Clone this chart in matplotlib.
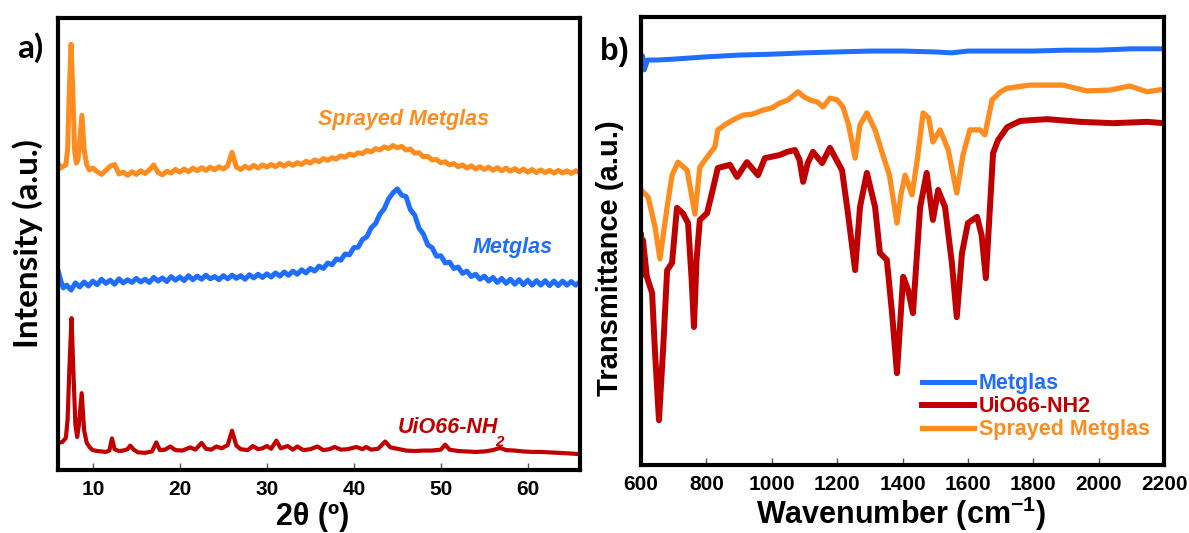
import matplotlib
matplotlib.use("Agg")
import matplotlib.pyplot as plt

plt.rcParams["font.family"] = "Liberation Sans"
plt.rcParams["font.weight"] = "bold"
plt.rcParams["mathtext.fontset"] = "custom"
plt.rcParams["mathtext.rm"] = "Liberation Sans:bold"
plt.rcParams["mathtext.bf"] = "Liberation Sans:bold"
plt.rcParams["mathtext.default"] = "bf"

ORANGE = "#FF8C1E"
BLUE = "#1F6EFF"
RED = "#C00000"

# ---------------- XRD patterns (2theta in degrees, intensity a.u.) ----------------
tt_sprayed = [6.0, 6.3, 6.6, 6.9, 7.1, 7.3, 7.5, 7.7, 7.9, 8.1, 8.3, 8.5, 8.75, 9.0, 9.3, 9.6, 10.0,
              10.5, 11.0, 11.5, 12.0, 12.5, 13.0, 13.5, 14.0, 14.5, 15.0, 15.5, 16.0, 16.5, 17.0,
              17.5, 18.0, 18.5, 19.0, 19.5, 20.0, 20.5, 21.0, 21.5, 22.0, 22.5, 23.0, 23.5, 24.0,
              24.5, 25.0, 25.5, 26.0, 26.5, 27.0, 27.5, 28.0, 28.5, 29.0, 29.5, 30.0, 30.5, 31.0,
              31.5, 32.0, 32.5, 33.0, 33.5, 34.0, 34.5, 35.0, 35.5, 36.0, 36.5, 37.0, 37.5, 38.0,
              38.5, 39.0, 39.5, 40.0, 40.5, 41.0, 41.5, 42.0, 42.5, 43.0, 43.5, 44.0, 44.5, 45.0,
              45.5, 46.0, 46.5, 47.0, 47.5, 48.0, 48.5, 49.0, 49.5, 50.0, 50.5, 51.0, 51.5, 52.0,
              52.5, 53.0, 53.5, 54.0, 54.5, 55.0, 55.5, 56.0, 56.5, 57.0, 57.5, 58.0, 58.5, 59.0,
              59.5, 60.0, 60.5, 61.0, 61.5, 62.0, 62.5, 63.0, 63.5, 64.0, 64.5, 65.0, 65.5, 66.0]
i_sprayed = [67.9, 66.8, 67.2, 67.5, 70.8, 84.1, 94.2, 84.1, 70.8, 67.9, 68.6, 73.0, 78.5, 70.8, 67.5, 66.4, 66.8,
             66.0, 65.4, 66.3, 67.2, 67.6, 65.5, 65.9, 65.2, 66.0, 65.4, 66.2, 65.6, 66.4, 67.5,
             65.8, 65.3, 66.1, 65.7, 66.5, 65.9, 66.6, 66.0, 66.8, 66.2, 66.9, 66.3, 67.0, 66.4,
             67.1, 66.6, 67.3, 70.3, 67.0, 66.5, 67.2, 66.7, 67.4, 66.8, 67.5, 67.0, 67.6, 67.1,
             67.8, 67.2, 67.9, 67.4, 68.0, 67.6, 68.3, 67.9, 68.6, 68.2, 68.9, 68.5, 69.1, 68.8,
             69.5, 69.2, 69.9, 69.6, 70.2, 70.0, 70.7, 70.4, 71.1, 70.8, 71.5, 71.1, 71.8, 71.3,
             71.6, 70.8, 71.0, 70.1, 70.2, 69.3, 69.4, 68.6, 68.7, 68.0, 68.2, 67.5, 67.8, 67.1,
             67.5, 66.8, 67.3, 66.6, 67.1, 66.5, 67.0, 66.3, 66.9, 66.2, 66.8, 66.1, 66.7, 66.0,
             66.6, 65.9, 66.5, 65.8, 66.4, 65.8, 66.3, 65.7, 66.3, 65.7, 66.2, 65.6, 66.2, 65.8]

tt_metglas = [6.0, 6.3, 6.6, 7.0, 7.5, 8.0, 8.5, 9.0, 9.5, 10.0,
              10.5, 11.0, 11.5, 12.0, 12.5, 13.0, 13.5, 14.0, 14.5, 15.0, 15.5, 16.0, 16.5, 17.0,
              17.5, 18.0, 18.5, 19.0, 19.5, 20.0, 20.5, 21.0, 21.5, 22.0, 22.5, 23.0, 23.5, 24.0,
              24.5, 25.0, 25.5, 26.0, 26.5, 27.0, 27.5, 28.0, 28.5, 29.0, 29.5, 30.0, 30.5, 31.0,
              31.5, 32.0, 32.5, 33.0, 33.5, 34.0, 34.5, 35.0, 35.5, 36.0, 36.5, 37.0, 37.5, 38.0,
              38.5, 39.0, 39.5, 40.0, 40.5, 41.0, 41.5, 42.0, 42.5, 43.0, 43.5, 44.0, 44.5, 45.0,
              45.5, 46.0, 46.5, 47.0, 47.5, 48.0, 48.5, 49.0, 49.5, 50.0, 50.5, 51.0, 51.5, 52.0,
              52.5, 53.0, 53.5, 54.0, 54.5, 55.0, 55.5, 56.0, 56.5, 57.0, 57.5, 58.0, 58.5, 59.0,
              59.5, 60.0, 60.5, 61.0, 61.5, 62.0, 62.5, 63.0, 63.5, 64.0, 64.5, 65.0, 65.5, 66.0]
i_metglas = [44.2, 42.0, 40.3, 40.9, 39.8, 41.4, 40.5, 41.6, 40.7, 41.8,
             41.0, 42.2, 41.3, 42.0, 41.1, 42.3, 41.4, 42.1, 41.5, 42.4, 41.6, 42.2, 41.5, 42.6,
             41.8, 42.5, 41.7, 42.8, 42.0, 42.7, 41.9, 43.0, 42.1, 42.9, 42.2, 43.1, 42.3, 42.8,
             42.1, 43.0, 42.3, 43.1, 42.4, 43.0, 42.2, 43.2, 42.5, 43.3, 42.6, 43.4, 42.7, 43.6,
             42.9, 43.8, 43.1, 44.0, 43.3, 44.3, 43.6, 44.6, 44.0, 45.1, 44.6, 45.8, 45.4, 46.7,
             46.4, 47.8, 47.6, 49.2, 49.3, 51.0, 51.6, 53.6, 54.5, 56.6, 57.8, 60.0, 61.3, 62.2,
             60.8, 60.5, 57.6, 56.4, 53.5, 52.2, 49.8, 49.2, 47.3, 47.4, 45.8, 46.0, 44.6, 44.9,
             43.5, 44.0, 42.8, 43.3, 42.2, 42.9, 41.8, 42.6, 41.5, 42.4, 41.3, 42.2, 41.1, 42.1,
             41.0, 42.0, 40.9, 41.9, 40.9, 41.9, 40.8, 41.8, 40.8, 41.8, 40.9, 41.7, 40.9, 41.6]

tt_uio = [6.0, 6.5, 6.9, 7.1, 7.3, 7.55, 7.8, 8.0, 8.2, 8.4, 8.72, 9.0, 9.3, 9.7, 10.0,
          10.5, 11.0, 11.5, 11.9, 12.2, 12.5, 13.0, 13.5, 14.0, 14.3, 14.7, 15.2, 16.0, 16.8,
          17.3, 17.7, 18.3, 18.9, 19.5, 20.3, 21.2, 21.8, 22.5, 23.0, 23.6, 24.2, 24.8, 25.5,
          26.0, 26.5, 27.0, 27.8, 28.4, 29.0, 29.5, 30.0, 30.5, 31.1, 31.6, 32.4, 33.0, 33.5,
          34.2, 35.0, 35.8, 36.5, 37.2, 37.8, 38.5, 39.3, 40.3, 41.0, 41.4, 42.0, 42.8, 43.6,
          44.2, 45.0, 46.0, 47.0, 48.0, 49.0, 50.0, 50.5, 51.0, 52.0, 53.0, 54.0, 55.0, 56.0,
          56.8, 57.5, 58.5, 59.5, 60.5, 61.5, 62.5, 63.5, 64.5, 65.3, 66.0]
i_uio = [6.0, 6.2, 7.1, 11.1, 22.1, 33.6, 19.9, 10.0, 7.3, 10.0, 17.0, 8.8, 6.0, 4.9, 4.4,
         4.2, 4.1, 4.0, 4.3, 7.0, 4.6, 4.2, 4.3, 4.6, 5.4, 4.5, 3.9, 3.8, 4.1,
         6.1, 4.4, 4.5, 5.2, 4.4, 4.3, 5.0, 4.5, 6.0, 4.7, 4.5, 5.2, 4.8, 5.5,
         8.7, 5.4, 4.6, 4.4, 5.3, 4.6, 4.8, 5.3, 4.7, 6.5, 4.8, 5.3, 4.5, 5.2,
         4.4, 4.6, 5.2, 4.4, 4.6, 5.1, 4.5, 4.6, 5.1, 4.6, 5.1, 4.5, 4.7, 6.3,
         5.0, 4.7, 4.3, 4.2, 4.3, 4.3, 4.5, 5.6, 4.5, 4.2, 4.1, 4.0, 4.1, 4.4,
         4.9, 4.4, 4.3, 4.1, 4.0, 4.0, 3.9, 3.8, 3.7, 3.6, 3.5]

xrd_ticks = [10, 20, 30, 40, 50, 60]

# ---------------- FTIR spectra (wavenumber in cm-1, transmittance a.u.) ----------------
wn_metglas = [600, 605, 610, 620, 650, 700, 800, 900, 1000, 1100, 1200, 1300, 1400, 1500,
              1550, 1600, 1700, 1800, 1900, 2000, 2100, 2200]
t_metglas = [89.5, 91.3, 88.2, 90.4, 90.4, 90.6, 91.1, 91.5, 91.7, 92.0, 92.2, 92.4, 92.4, 92.2,
             92.0, 92.4, 92.4, 92.4, 92.6, 92.6, 92.9, 92.9]

wn_uio = [600, 603, 606, 618, 634, 643, 655, 668, 680, 695, 710, 728, 744, 755, 762, 770, 780,
          802, 817, 835, 872, 894, 924, 958, 979, 1025, 1047, 1071, 1085, 1096, 1110, 1126,
          1154, 1178, 1215, 1233, 1255, 1270, 1291, 1316, 1331, 1352, 1368, 1383, 1402, 1417,
          1432, 1454, 1474, 1493, 1509, 1530, 1551, 1566, 1582, 1600, 1628, 1642, 1655, 1677,
          1692, 1720, 1760, 1842, 1943, 2044, 2148, 2200]
t_uio = [51.3, 42.4, 50.2, 42.0, 38.4, 25.0, 10.0, 26.3, 43.5, 45.1, 57.4, 56.2, 54.0, 41.3,
         30.8, 45.8, 54.7, 56.2, 60.7, 66.3, 67.0, 64.3, 67.6, 64.7, 68.5, 69.2, 69.9, 70.3, 68.1,
         63.2, 67.4, 69.9, 67.4, 70.8, 65.8, 56.2, 43.5, 57.6, 65.2, 57.6, 47.3, 45.8, 33.9, 20.5,
         42.0, 39.1, 33.9, 57.6, 65.2, 54.7, 61.4, 57.6, 45.1, 33.0, 47.3, 54.0, 55.4, 51.3, 41.7,
         69.6, 72.5, 75.4, 76.8, 77.2, 76.6, 76.3, 76.6, 76.3]

wn_sprayed = [600, 622, 643, 658, 680, 695, 713, 741, 765, 780, 800, 826, 835, 860, 881, 912,
              940, 973, 1000, 1025, 1050, 1080, 1100, 1117, 1140, 1157, 1178, 1200, 1218, 1235,
              1255, 1270, 1291, 1316, 1340, 1360, 1383, 1395, 1408, 1429, 1445, 1463, 1480, 1493,
              1515, 1540, 1566, 1585, 1606, 1637, 1652, 1674, 1700, 1720, 1790, 1891, 1930, 1964,
              2035, 2096, 2148, 2200]
t_sprayed = [61.4, 59.8, 53.1, 46.0, 57.6, 64.7, 67.6, 65.8, 56.0, 66.5, 68.5, 71.0, 74.8, 76.1,
             77.0, 78.1, 78.3, 79.2, 79.7, 80.8, 81.5, 83.3, 82.1, 81.5, 81.0, 79.9, 81.9, 81.5,
             79.9, 75.9, 68.5, 75.9, 78.6, 74.8, 69.2, 64.7, 54.0, 60.3, 64.7, 60.3, 68.1, 78.6,
             77.5, 72.1, 74.8, 70.3, 60.7, 69.2, 74.8, 74.8, 73.7, 81.5, 83.3, 84.1, 84.8, 84.8,
             84.1, 83.5, 83.7, 84.6, 83.3, 83.9]

ftir_ticks = [600, 800, 1000, 1200, 1400, 1600, 1800, 2000, 2200]

fig = plt.figure(figsize=(11.89, 5.33), dpi=100)
ax1 = fig.add_axes([0.0488, 0.1182, 0.4390, 0.8480])
ax2 = fig.add_axes([0.5391, 0.1276, 0.4399, 0.8405])

# --- panel a: XRD ---
ax1.plot(tt_sprayed, i_sprayed, color=ORANGE, lw=3.6)
ax1.plot(tt_metglas, i_metglas, color=BLUE, lw=3.6)
ax1.plot(tt_uio, i_uio, color=RED, lw=3.0)
ax1.set_xlim(6, 66)
ax1.set_ylim(0, 100)
ax1.set_xticks(xrd_ticks)

ax1.text(45.7, 77.6, "Sprayed Metglas", color=ORANGE, fontsize=15.5,
         style="italic", weight="bold", ha="center", va="center")
ax1.text(58.3, 49.3, "Metglas", color=BLUE, fontsize=15.5,
         style="italic", weight="bold", ha="center", va="center")
ax1.text(45.1, 9.3, "UiO66-NH", color=RED, fontsize=15.5,
         style="italic", weight="bold", ha="left", va="center")
ax1.text(56.3, 6.2, "2", color=RED, fontsize=11,
         style="italic", weight="bold", ha="left", va="center")

ax1.set_xlabel("2θ (º)", fontsize=22, weight="bold", va="center")
ax1.xaxis.set_label_coords(0.487, -0.104)
ax1.set_ylabel("Intensity (a.u.)", fontsize=24, weight="bold", family="Lato", va="center")
ax1.yaxis.set_label_coords(-0.0575, 0.502)

# --- panel b: FTIR ---
ax2.plot(wn_metglas, t_metglas, color=BLUE, lw=3.6, label="Metglas")
ax2.plot(wn_uio, t_uio, color=RED, lw=4.3, label="UiO66-NH2")
ax2.plot(wn_sprayed, t_sprayed, color=ORANGE, lw=3.8, label="Sprayed Metglas")
ax2.set_xlim(600, 2200)
ax2.set_ylim(0, 100)
ax2.set_xticks(ftir_ticks)

ax2.legend(loc="upper left", bbox_to_anchor=(0.537, 0.205), frameon=False,
           prop=dict(family="Liberation Sans", weight="bold", size=15.5),
           labelcolor="linecolor", handlelength=2.4, handletextpad=0.25,
           labelspacing=0.1, borderpad=0, borderaxespad=0)

ax2.set_xlabel("Wavenumber (cm$^{-1}$)", fontsize=22, weight="bold", va="center")
ax2.xaxis.set_label_coords(0.497, -0.108)
ax2.set_ylabel("Transmittance (a.u.)", fontsize=21, weight="bold", va="center")
ax2.yaxis.set_label_coords(-0.059, 0.462)

for ax in (ax1, ax2):
    for sp in ax.spines.values():
        sp.set_linewidth(3.0)
        sp.set_color("black")
    ax.tick_params(axis="x", direction="in", length=5, width=1, color="#555555",
                   pad=7, labelsize=15)
    ax.tick_params(axis="y", left=False, labelleft=False)
    for lbl in ax.get_xticklabels():
        lbl.set_fontweight("bold")

fig.text(0.0252, 0.91, "a)", fontsize=24, weight="bold", family="Lato",
         ha="center", va="center")
fig.text(0.5164, 0.9024, "b)", fontsize=22, weight="bold", ha="center", va="center")

fig.savefig("out.png", dpi=100)
